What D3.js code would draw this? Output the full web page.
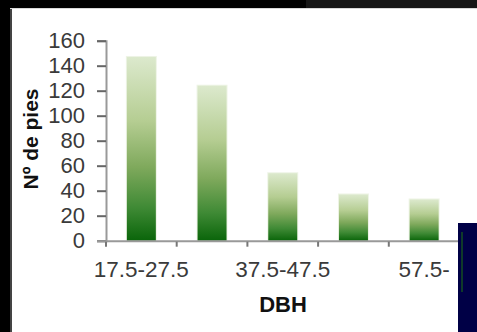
<!DOCTYPE html>
<html>
<head>
<meta charset="utf-8">
<script src="https://cdn.jsdelivr.net/npm/d3@7"></script>
<style>
  body { margin: 0; background: #000; }
  svg { display: block; }
</style>
</head>
<body>
<div id="chart"></div>
<script>
// data
const categories = ["17.5-27.5", "27.5-37.5", "37.5-47.5", "47.5-57.5", "57.5-"];
const counts = [147, 124, 54, 37, 33];
const yTicks = [0, 20, 40, 60, 80, 100, 120, 140, 160];

const W = 477, H = 332;
const svg = d3.select("#chart").append("svg").attr("width", W).attr("height", H);

// slide background + white panel
svg.append("rect").attr("width", W).attr("height", H).attr("fill", "#000");
svg.append("rect").attr("x", 306).attr("y", 0).attr("width", W - 306).attr("height", 9).attr("fill", "#161616");
svg.append("rect").attr("x", 10).attr("y", 8).attr("width", W - 10).attr("height", H - 8).attr("fill", "#d8d8d8");
svg.append("rect").attr("x", 10).attr("y", 9).attr("width", 2).attr("height", H - 9).attr("fill", "#444");
svg.append("rect").attr("x", 12).attr("y", 9).attr("width", W - 12).attr("height", H - 9).attr("fill", "#fff");

// gradient for bars
const defs = svg.append("defs");
const grad = defs.append("linearGradient").attr("id", "barGrad")
    .attr("x1", 0).attr("y1", 0).attr("x2", 0).attr("y2", 1);
grad.append("stop").attr("offset", "0%").attr("stop-color", "#dce9cd");
grad.append("stop").attr("offset", "35%").attr("stop-color", "#b5cd92");
grad.append("stop").attr("offset", "60%").attr("stop-color", "#7fa95c");
grad.append("stop").attr("offset", "82%").attr("stop-color", "#3f8a35");
grad.append("stop").attr("offset", "100%").attr("stop-color", "#0a650a");

const x = d3.scaleBand().domain(categories).range([106, 459.5]);
const y = d3.scaleLinear().domain([0, 160]).range([240.7, 40.7]);
const bw = x.bandwidth();
const barW = bw * 0.41;
const font = "Liberation Sans, Arial, sans-serif";

// bars
const bars = svg.append("g");
bars.selectAll("rect.halo")
    .data(counts)
    .enter().append("rect")
    .attr("class", "halo")
    .attr("x", (d, i) => x(categories[i]) + (bw - barW) / 2 - 1)
    .attr("y", d => y(d) - 1)
    .attr("width", barW + 2)
    .attr("height", d => y(0) - y(d) + 1)
    .attr("fill", "#eef4e6");
bars.selectAll("rect.bar")
    .data(counts)
    .enter().append("rect")
    .attr("class", "bar")
    .attr("x", (d, i) => x(categories[i]) + (bw - barW) / 2)
    .attr("y", d => y(d))
    .attr("width", barW)
    .attr("height", d => y(0) - y(d))
    .attr("fill", "url(#barGrad)");

// y axis
const yAxis = svg.append("g")
    .attr("transform", "translate(106,0)")
    .call(d3.axisLeft(y).tickValues(yTicks).tickSize(9).tickPadding(12));
yAxis.select(".domain").attr("stroke", "#999").attr("stroke-width", 2);
yAxis.selectAll(".tick line").attr("stroke", "#666").attr("stroke-width", 2);
yAxis.selectAll(".tick text")
    .attr("fill", "#3a3a3a")
    .style("font-family", font)
    .style("font-size", "22px");

// x axis (ticks at band edges, labels on every other category)
svg.append("line")
    .attr("x1", 97).attr("x2", 459.5)
    .attr("y1", y(0) + 0.5).attr("y2", y(0) + 0.5)
    .attr("stroke", "#999").attr("stroke-width", 2);
svg.append("g").selectAll("line")
    .data(categories)
    .enter().append("line")
    .attr("x1", d => x(d)).attr("x2", d => x(d))
    .attr("y1", y(0) + 1).attr("y2", y(0) + 6)
    .attr("stroke", "#777").attr("stroke-width", 2);
svg.append("g").selectAll("text")
    .data(categories.filter((d, i) => i % 2 === 0))
    .enter().append("text")
    .attr("x", d => x(d) + bw / 2)
    .attr("y", 277)
    .attr("text-anchor", "middle")
    .attr("fill", "#3a3a3a")
    .style("font-family", font)
    .style("font-size", "22.5px")
    .text(d => d);

// axis titles
svg.append("text")
    .attr("transform", "translate(38,139) rotate(-90)")
    .attr("text-anchor", "middle")
    .style("font-family", font)
    .style("font-size", "21px")
    .style("font-weight", "bold")
    .attr("fill", "#111")
    .text("Nº de pies");
svg.append("text")
    .attr("x", 283).attr("y", 312)
    .attr("text-anchor", "middle")
    .style("font-family", font)
    .style("font-size", "22px")
    .style("font-weight", "bold")
    .attr("fill", "#111")
    .text("DBH");

// navy block covering the lower right corner
svg.append("rect").attr("x", 458).attr("y", 223).attr("width", W - 458).attr("height", H - 223).attr("fill", "#000046");
svg.append("rect").attr("x", 461).attr("y", 232).attr("width", 2).attr("height", 60).attr("fill", "#0f3a2a");
</script>
</body>
</html>
